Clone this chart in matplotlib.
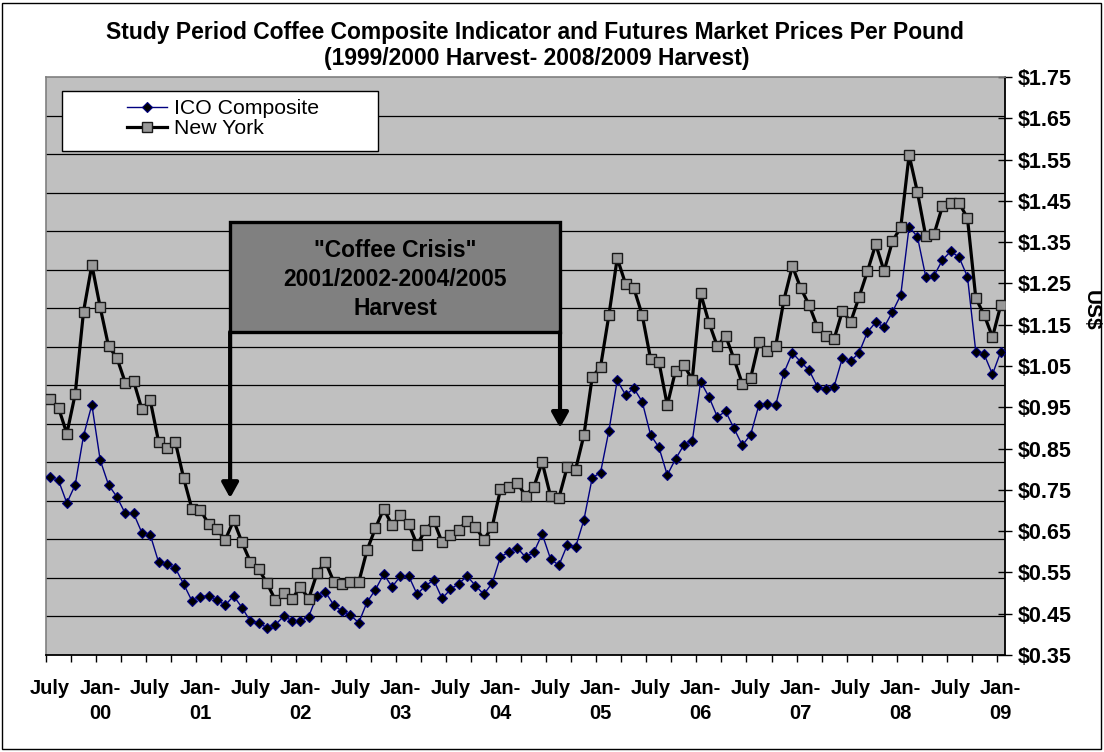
import matplotlib
matplotlib.use("Agg")
import matplotlib.pyplot as plt
from matplotlib.patches import Rectangle, FancyArrowPatch
from matplotlib.ticker import FixedLocator
import numpy as np

plt.rcParams['font.family'] = ['Liberation Sans', 'DejaVu Sans']

# ---- data (monthly, July 1999 .. January 2009), US$ per pound ----
ny_prices = [
    0.970, 0.949, 0.886, 0.982, 1.182, 1.295, 1.192, 1.098, 1.070, 1.010,
    1.014, 0.945, 0.967, 0.867, 0.851, 0.867, 0.779, 0.704, 0.702, 0.667,
    0.654, 0.629, 0.676, 0.623, 0.576, 0.558, 0.524, 0.483, 0.499, 0.485,
    0.515, 0.486, 0.548, 0.576, 0.528, 0.523, 0.526, 0.526, 0.604, 0.657,
    0.704, 0.664, 0.688, 0.667, 0.617, 0.653, 0.675, 0.623, 0.641, 0.653,
    0.675, 0.661, 0.629, 0.660, 0.751, 0.758, 0.767, 0.736, 0.757, 0.817,
    0.735, 0.730, 0.805, 0.799, 0.882, 1.023, 1.048, 1.173, 1.311, 1.249,
    1.238, 1.173, 1.067, 1.060, 0.955, 1.039, 1.052, 1.017, 1.226, 1.155,
    1.098, 1.123, 1.067, 1.007, 1.021, 1.108, 1.086, 1.098, 1.211, 1.292,
    1.239, 1.198, 1.145, 1.123, 1.115, 1.183, 1.157, 1.217, 1.279, 1.345,
    1.280, 1.352, 1.386, 1.561, 1.471, 1.364, 1.370, 1.437, 1.445, 1.445,
    1.408, 1.214, 1.174, 1.120, 1.198,
]
ico_prices = [
    0.781, 0.773, 0.718, 0.762, 0.881, 0.956, 0.822, 0.762, 0.733, 0.693,
    0.693, 0.646, 0.641, 0.575, 0.571, 0.561, 0.522, 0.481, 0.491, 0.494,
    0.483, 0.471, 0.493, 0.465, 0.432, 0.428, 0.416, 0.423, 0.444, 0.433,
    0.432, 0.443, 0.494, 0.503, 0.471, 0.456, 0.447, 0.428, 0.478, 0.508,
    0.546, 0.515, 0.541, 0.541, 0.497, 0.518, 0.531, 0.487, 0.509, 0.523,
    0.541, 0.518, 0.497, 0.524, 0.588, 0.599, 0.610, 0.587, 0.599, 0.643,
    0.583, 0.567, 0.616, 0.611, 0.677, 0.779, 0.792, 0.893, 1.015, 0.980,
    0.996, 0.963, 0.883, 0.853, 0.786, 0.825, 0.859, 0.868, 1.012, 0.975,
    0.927, 0.940, 0.899, 0.858, 0.884, 0.956, 0.959, 0.955, 1.034, 1.082,
    1.060, 1.040, 1.000, 0.994, 1.000, 1.069, 1.062, 1.082, 1.132, 1.156,
    1.144, 1.181, 1.222, 1.387, 1.363, 1.266, 1.269, 1.307, 1.328, 1.313,
    1.266, 1.084, 1.078, 1.030, 1.085,
]
x_labels = ["July", "Jan-\n00", "July", "Jan-\n01", "July", "Jan-\n02",
            "July", "Jan-\n03", "July", "Jan-\n04", "July", "Jan-\n05",
            "July", "Jan-\n06", "July", "Jan-\n07", "July", "Jan-\n08",
            "July", "Jan-\n09"]
label_step = 6      # one label every 6 months
tick_step = 3       # one tick mark every 3 months
y_ticks = [0.35, 0.45, 0.55, 0.65, 0.75, 0.85, 0.95, 1.05, 1.15, 1.25,
           1.35, 1.45, 1.55, 1.65, 1.75]
n_gridlines = 15

W, H = 1104, 752
fig = plt.figure(figsize=(W / 100, H / 100), dpi=100)
L, R, T, B = 46, 1005, 77, 655
ax = fig.add_axes([L / W, (H - B) / H, (R - L) / W, (B - T) / H])
ax.set_facecolor('#C0C0C0')

n = len(ny_prices)
x = np.arange(n)
ax.plot(x, ico_prices, color='#000080', lw=1.0, marker='D', ms=5.5,
        mfc='black', mec='#000080', mew=0.8, label='ICO Composite', zorder=3)
ax.plot(x, ny_prices, color='black', lw=2.3, marker='s', ms=6.5,
        mfc='#999999', mec='#1a1a1a', mew=1.0, label='New York', zorder=4)

ax.set_xlim(-0.5, n - 0.5)
ax.set_ylim(y_ticks[0], y_ticks[-1])

# x axis: labels centred on categories, tick marks between categories
ax.set_xticks(np.arange(0, n, label_step)[:len(x_labels)])
ax.set_xticklabels(x_labels, fontsize=14.5, fontweight='bold', linespacing=1.4)
ax.xaxis.set_minor_locator(FixedLocator(np.arange(-0.5, n - 1, tick_step)))
ax.tick_params(axis='x', which='major', length=0, pad=17)
ax.tick_params(axis='x', which='minor', length=5, width=1, direction='out', color='black')

# y axis on right
ax.yaxis.tick_right()
ax.set_yticks(y_ticks)
ax.set_yticklabels([f"${v:.2f}" for v in y_ticks], fontsize=15.5, fontweight='bold')
ax.tick_params(axis='y', which='major', direction='inout', length=10, width=1, pad=4)
ax.yaxis.set_minor_locator(FixedLocator(np.linspace(y_ticks[0], y_ticks[-1], n_gridlines + 1)[1:-1]))
ax.tick_params(axis='y', which='minor', length=0)
ax.grid(which='minor', axis='y', color='black', lw=0.9)
ax.set_axisbelow(True)

for s in ['left', 'top']:
    ax.spines[s].set_color('#808080')
    ax.spines[s].set_linewidth(1.2)
for s in ['right', 'bottom']:
    ax.spines[s].set_color('black')
    ax.spines[s].set_linewidth(1.3)

# legend
ax.add_patch(Rectangle((0.0167, 0.872), 0.329, 0.104, transform=ax.transAxes,
                       facecolor='white', edgecolor='black', lw=1.0, zorder=5))
leg = ax.legend(loc='center left', bbox_to_anchor=(0.0845, 0.928), frameon=False,
                fontsize=15.3, borderpad=0, borderaxespad=0, handlelength=1.9,
                handletextpad=0.3, labelspacing=0.05)
leg.set_zorder(6)

# "Coffee Crisis" annotation
bx0, bx1, by0, by1 = 0.192, 0.536, 0.559, 0.749
ax.add_patch(Rectangle((bx0, by0), bx1 - bx0, by1 - by0, transform=ax.transAxes,
                       facecolor='#808080', edgecolor='black', lw=2.4, zorder=5))
ax.text((bx0 + bx1) / 2, 0.650, '"Coffee Crisis"\n2001/2002-2004/2005\nHarvest',
        transform=ax.transAxes, ha='center', va='center', fontsize=16.5,
        fontweight='bold', linespacing=1.33, zorder=6)
for xa, ytip in [(bx0, 0.2716), (bx1, 0.393)]:
    arr = FancyArrowPatch((xa, by0), (xa, ytip), transform=ax.transAxes,
                          arrowstyle='-|>,head_length=0.9,head_width=0.5',
                          mutation_scale=10, lw=3, color='black',
                          shrinkA=0, shrinkB=0, zorder=5)
    ax.add_patch(arr)

# titles and axis label
fig.text(535 / W, 1 - 33 / H,
         'Study Period Coffee Composite Indicator and Futures Market Prices Per Pound',
         ha='center', va='center', fontsize=16.5, fontweight='bold')
fig.text(537 / W, 1 - 59 / H, '(1999/2000 Harvest- 2008/2009 Harvest)',
         ha='center', va='center', fontsize=16.5, fontweight='bold')
fig.text(1091 / W, 1 - 310 / H, 'US$', rotation=270, ha='center', va='center',
         fontsize=15, fontweight='bold')

# outer frame
fig.add_artist(Rectangle((2 / W, 3 / H), 1 - 5 / W, 1 - 6 / H, transform=fig.transFigure,
                         fill=False, edgecolor='black', lw=1.0))

fig.savefig('out.png', dpi=100)
